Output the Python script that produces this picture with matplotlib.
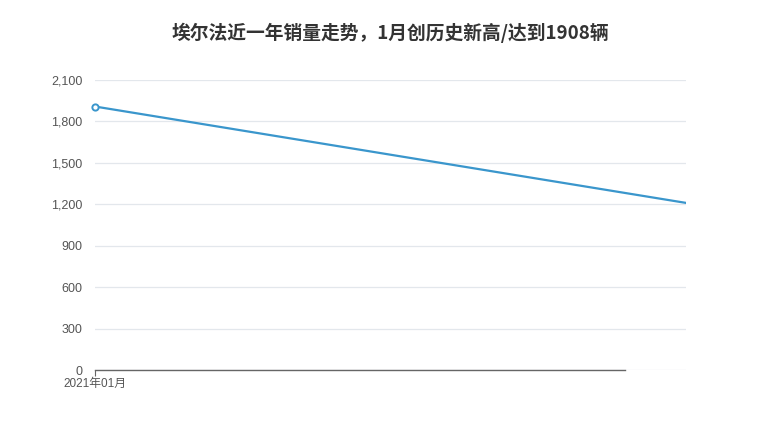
import matplotlib
matplotlib.use("Agg")
import matplotlib.pyplot as plt

plt.rcParams['font.family'] = ['Liberation Sans', 'Noto Sans CJK SC', 'DejaVu Sans']

months = ["2021年01月", "2021年02月"]
sales = [1908, 1210]
yticks = [0, 300, 600, 900, 1200, 1500, 1800, 2100]
title = "埃尔法近一年销量走势，1月创历史新高/达到1908辆"

fig = plt.figure(figsize=(7.8, 4.4), dpi=100)
ax = fig.add_axes([95/780, 1-370/440, (686-95)/780, (370-80)/440])

x = list(range(len(months)))
ax.plot(x, sales, color="#3a96cc", linewidth=1.6, zorder=3)
ax.plot(x[:1], sales[:1], marker="o", markersize=4.5, markerfacecolor="white",
        markeredgecolor="#3a96cc", markeredgewidth=1.4, linestyle="none",
        zorder=4, clip_on=False)

ax.set_xlim(0, 1)
ax.set_ylim(0, 2100)
ax.set_yticks(yticks)
ax.set_yticklabels([f"{v:,}" for v in yticks])
ax.set_xticks([0])
ax.set_xticklabels(months[:1])

ax.grid(axis="y", color="#e3e7ec", linewidth=0.9)
ax.set_axisbelow(True)
for s in ["top", "right", "left"]:
    ax.spines[s].set_visible(False)
ax.spines["bottom"].set_color("#666666")
ax.spines["bottom"].set_linewidth(1.0)
ax.spines["bottom"].set_bounds(0, 0.897)
ax.tick_params(axis="y", length=0, pad=9, labelsize=9, labelcolor="#555555")
ax.tick_params(axis="x", length=4, width=0.8, color="#666666", pad=2,
               labelsize=8.5, labelcolor="#555555")

fig.text(0.5, 1-33/440, title, ha="center", va="center", fontsize=13.5,
         fontweight="bold", color="#333333",
         family=['Noto Sans CJK SC', 'DejaVu Sans'])

fig.savefig("out.png", dpi=100, facecolor="white")
